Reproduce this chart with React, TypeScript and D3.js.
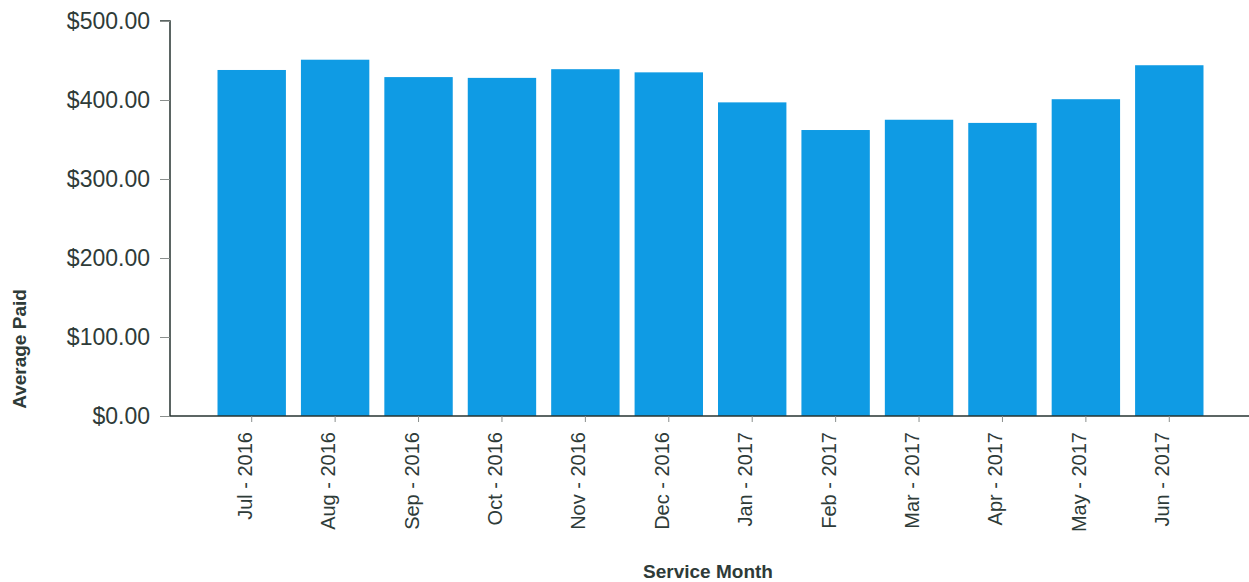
import React, { useEffect, useRef } from "react";
import * as d3 from "d3";

const months = ["Jul - 2016", "Aug - 2016", "Sep - 2016", "Oct - 2016", "Nov - 2016", "Dec - 2016", "Jan - 2017", "Feb - 2017", "Mar - 2017", "Apr - 2017", "May - 2017", "Jun - 2017"];
const averagePaid = [438, 451, 429, 428, 439, 435, 397, 362, 375, 371, 401, 444];
const yTicks = [0, 100, 200, 300, 400, 500];

const W = 1249;
const H = 582;

export default function App() {
  const ref = useRef<SVGSVGElement>(null);
  useEffect(() => {
    const svg = d3.select(ref.current);
    svg.selectAll("*").remove();
    const font = "'Liberation Sans', Arial, sans-serif";
    const textColor = "#2e3b38";
    const axisX0 = 170;
    const axisX1 = 1249;
    const y = d3.scaleLinear().domain([0, 500]).range([416, 21]);
    const x = d3.scaleBand<string>().domain(months).range([210, 1211]).paddingInner(0.18).paddingOuter(0.09);

    // bars
    svg.append("g").selectAll("rect").data(months).join("rect")
      .attr("x", (d) => x(d)!)
      .attr("width", x.bandwidth())
      .attr("y", (_, i) => y(averagePaid[i]))
      .attr("height", (_, i) => y(0) - y(averagePaid[i]))
      .attr("fill", "#0f9be4");

    // y axis
    const ya = d3.axisLeft(y).tickValues(yTicks).tickFormat((d) => "$" + d3.format(".2f")(d as number)).tickSize(10).tickPadding(10);
    const yg = svg.append("g").attr("transform", `translate(${axisX0},0)`).call(ya);
    yg.select(".domain").attr("stroke", "#263330").attr("stroke-width", 1.5).attr("d", `M-10,${y(500)}H0V${y(0)}`);
    yg.selectAll(".tick line").attr("stroke", "#8a8f8d");
    yg.selectAll(".tick text").attr("font-family", font).attr("font-size", 23).attr("fill", textColor);

    // x axis
    const xa = d3.axisBottom(x).tickSize(6).tickSizeOuter(0);
    const xg = svg.append("g").attr("transform", `translate(0,${y(0)})`).call(xa);
    xg.select(".domain").attr("stroke", "#263330").attr("stroke-width", 1.5).attr("d", `M${axisX0},0H${axisX1}`);
    xg.selectAll(".tick line").attr("stroke", "#8a8f8d");
    xg.selectAll(".tick text")
      .attr("font-family", font)
      .attr("font-size", 20)
      .attr("fill", textColor)
      .attr("text-anchor", "end")
      .attr("dy", "0.35em")
      .attr("transform", "translate(-7,16) rotate(-90)")
      .attr("x", 0)
      .attr("y", 0);

    // axis titles
    svg.append("text")
      .attr("transform", "translate(26,349) rotate(-90)")
      .attr("text-anchor", "middle")
      .attr("font-family", font)
      .attr("font-weight", "bold")
      .attr("font-size", 19)
      .attr("fill", textColor)
      .text("Average Paid");
    svg.append("text")
      .attr("x", 708)
      .attr("y", 578)
      .attr("text-anchor", "middle")
      .attr("font-family", font)
      .attr("font-weight", "bold")
      .attr("font-size", 19)
      .attr("fill", textColor)
      .text("Service Month");
  }, []);
  return (
    <svg ref={ref} width={W} height={H} style={{ position: "absolute", left: 0, top: 0, background: "#fff" }} />
  );
}
